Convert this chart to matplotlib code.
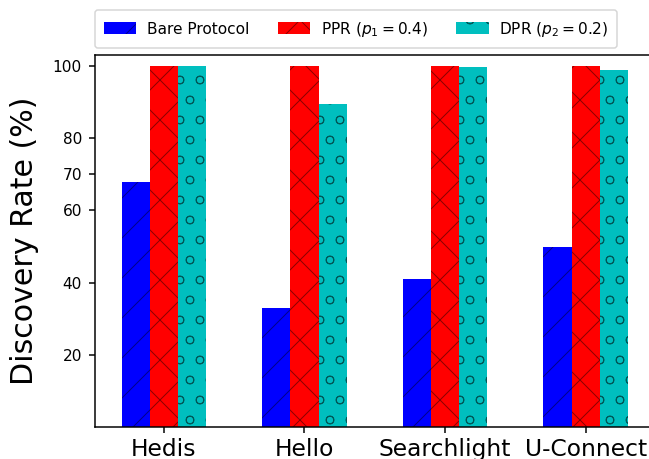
import numpy as np
import matplotlib
matplotlib.use("Agg")
import matplotlib.pyplot as plt

# discovery rate (%) per protocol
protocols = ["Hedis", "Hello", "Searchlight", "U-Connect"]
bare = [68, 33, 41, 50]
ppr = [100, 100, 100, 100]
dpr = [100, 89.6, 99.7, 98.9]

series_labels = ["Bare Protocol", r"PPR ($p_1=0.4$)", r"DPR ($p_2=0.2$)"]
yticks = [20, 40, 60, 70, 80, 100]

plt.rcParams["hatch.linewidth"] = 0.3
plt.rcParams["axes.linewidth"] = 0.45

fig = plt.figure(figsize=(649 / 240, 459 / 240), dpi=240)
ax = fig.add_axes([0.1464, 0.0697, 0.862, 0.81])

x = np.arange(len(protocols))
w = 0.2
hatch_col = (0, 0, 0, 0.45)
ax.bar(x - w, bare, w, color="blue", hatch="//", edgecolor=hatch_col,
       linewidth=0, label=series_labels[0])
ax.bar(x, ppr, w, color="red", hatch="xx", edgecolor=hatch_col,
       linewidth=0, label=series_labels[1])
ax.bar(x + w, dpr, w, color="c", hatch="oo", edgecolor=hatch_col,
       linewidth=0, label=series_labels[2])

ax.set_xlim(-0.49, 3.49)
ax.set_ylim(0, 103)
ax.set_xticks(x)
ax.set_xticklabels(protocols, fontsize=7)
ax.set_yticks(yticks)
ax.tick_params(axis="y", labelsize=4.6, length=1.8, width=0.45, pad=2.1)
ax.tick_params(axis="x", length=1.8, width=0.45, pad=1.5)
ax.set_ylabel("Discovery Rate (%)", fontsize=9, labelpad=4)

leg = ax.legend(ncol=3, fontsize=4.6, loc="lower left",
                bbox_to_anchor=(0, 1.02), borderaxespad=0,
                handlelength=2.1, handleheight=0.78, handletextpad=0.7,
                columnspacing=1.85, borderpad=0.6,
                frameon=True, fancybox=True)
leg.get_frame().set_linewidth(0.45)
leg.get_frame().set_edgecolor("#cccccc")

fig.savefig("out.png", dpi=240)
